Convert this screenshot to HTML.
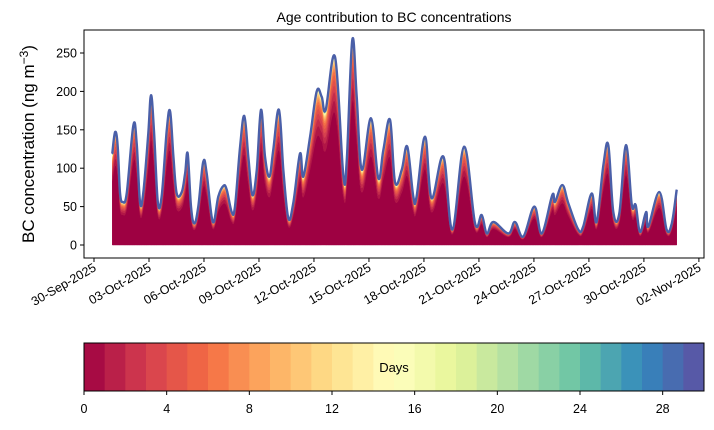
<!DOCTYPE html>
<html><head><meta charset="utf-8"><style>
body{margin:0;background:#fff;}
svg text{font-family:"Liberation Sans","DejaVu Sans",sans-serif;fill:#000;}
</style></head><body>
<svg id="c" width="714" height="425" viewBox="0 0 714 425" xmlns="http://www.w3.org/2000/svg">
<text x="394" y="22" text-anchor="middle" font-size="14">Age contribution to BC concentrations</text>
<text transform="translate(34,144) rotate(-90)" text-anchor="middle" font-size="17">BC concentration (ng m<tspan dy="-6" font-size="12">−3</tspan><tspan dy="6">)</tspan></text>
<g id="layers"></g>
<path id="topline" fill="none" stroke="#4a5fa8" stroke-width="2.4"/>
<rect x="84" y="30" width="620" height="228" fill="none" stroke="#000" stroke-width="1"/>
<g id="yaxis"></g>
<g id="xaxis"></g>
<g id="cbar"></g>
<text x="394" y="372" text-anchor="middle" font-size="13">Days</text>
</svg>
<script>
const times=[0.00,0.15,0.29,0.42,0.57,0.79,1.15,1.33,1.51,1.69,1.96,2.11,2.27,2.48,2.70,2.97,3.15,3.33,3.51,3.79,3.97,4.11,4.29,4.47,4.69,4.96,5.15,5.48,5.78,6.06,6.24,6.51,6.69,6.97,7.20,7.42,7.64,7.88,8.11,8.33,8.57,8.78,9.09,9.33,9.60,9.87,10.24,10.42,10.79,11.15,11.42,11.64,12.15,12.60,12.79,13.09,13.33,13.61,14.11,14.51,14.79,15.15,15.42,15.79,16.09,16.42,16.60,17.06,17.42,18.06,18.55,19.19,19.79,20.15,20.43,20.79,21.60,21.97,22.42,23.02,23.43,24.00,24.15,24.55,24.88,25.42,25.69,26.15,26.42,26.79,27.06,27.33,27.66,28.02,28.34,28.55,28.79,29.12,29.24,29.84,30.24,30.52,30.79];
const totals=[119,147,130,68,56,68,156,132,56,68,145,195,150,56,65,150,174,115,67,69,93,119,50,28,50,108,93,30,63,77,72,43,50,128,168,115,65,98,176,115,89,124,176,98,35,54,119,89,141,200,193,176,245,91,111,267,193,98,165,87,124,163,82,98,128,63,63,141,61,115,20,128,28,39,15,30,15,30,11,50,15,65,56,78,54,20,24,67,30,104,130,43,41,130,52,52,17,43,24,69,20,28,72];
const ageShares=[0.70,0.06,0.045,0.035,0.03,0.025,0.02,0.015,0.012,0.01,0.008,0.006,0.005,0.004,0.003,0.0025,0.002,0.002,0.0018,0.0016,0.0014,0.0012,0.001,0.001,0.001,0.001,0.001,0.001,0.001,0.001];
const yTicks=[0,50,100,150,200,250];
const dateLabels=["30-Sep-2025","03-Oct-2025","06-Oct-2025","09-Oct-2025","12-Oct-2025","15-Oct-2025","18-Oct-2025","21-Oct-2025","24-Oct-2025","27-Oct-2025","30-Oct-2025","02-Nov-2025"];
const dateOffsets=[-1,2,5,8,11,14,17,20,23,26,29,32];
const cbTicks=[0,4,8,12,16,20,24,28];

const NS="http://www.w3.org/2000/svg";
const X=d=>112.33+d*18.33;
const Y=v=>245-v*0.768;
const stops=["#9e0142","#d53e4f","#f46d43","#fdae61","#fee08b","#ffffbf","#e6f598","#abdda4","#66c2a5","#3288bd","#5e4fa2"];
function hx(h){return [1,3,5].map(i=>parseInt(h.substr(i,2),16));}
function spectral(t){const p=t*10,i=Math.min(9,Math.floor(p)),f=p-i;const a=hx(stops[i]),b=hx(stops[i+1]);return "rgb("+a.map((v,k)=>Math.round(v+(b[k]-v)*f)).join(",")+")";}
// smooth curve through points (catmull-rom), returns path segments without initial M
function curve(P,start){
  let s=start?("M"+P[0][0].toFixed(1)+","+P[0][1].toFixed(1)):("L"+P[0][0].toFixed(1)+","+P[0][1].toFixed(1));
  for(let i=0;i<P.length-1;i++){
    const p0=P[Math.max(0,i-1)],p1=P[i],p2=P[i+1],p3=P[Math.min(P.length-1,i+2)];
    const t=0.18;
    const c1=[p1[0]+(p2[0]-p0[0])*t,p1[1]+(p2[1]-p0[1])*t];
    const c2=[p2[0]-(p3[0]-p1[0])*t,p2[1]-(p3[1]-p1[1])*t];
    s+="C"+c1[0].toFixed(1)+","+c1[1].toFixed(1)+" "+c2[0].toFixed(1)+","+c2[1].toFixed(1)+" "+p2[0].toFixed(1)+","+p2[1].toFixed(1);
  }
  return s;
}
const sumS=ageShares.reduce((a,b)=>a+b,0);
const layers=document.getElementById('layers');
let cumPrev=times.map(()=>0);
for(let k=0;k<ageShares.length;k++){
  const cum=cumPrev.map((c,i)=>c+totals[i]*ageShares[k]/sumS);
  const top=times.map((t,i)=>[X(t),Y(cum[i])]);
  const bot=times.map((t,i)=>[X(t),Y(cumPrev[i])]).reverse();
  const p=document.createElementNS(NS,'path');
  p.setAttribute('d',curve(top,true)+curve(bot,false)+"Z");
  const col=spectral(k/29);
  p.setAttribute('fill',col);
  p.setAttribute('stroke',col);
  p.setAttribute('stroke-width','0.5');
  
  
  layers.appendChild(p);
  cumPrev=cum;
}
document.getElementById('topline').setAttribute('d',curve(times.map((t,i)=>[X(t),Y(totals[i])]),true));
const ya=document.getElementById('yaxis');
yTicks.forEach(v=>{
  const l=document.createElementNS(NS,'line');
  l.setAttribute('x1',80);l.setAttribute('x2',84);l.setAttribute('y1',Y(v));l.setAttribute('y2',Y(v));l.setAttribute('stroke','#000');
  
  
  ya.appendChild(l);
  const t=document.createElementNS(NS,'text');
  t.setAttribute('x',77);t.setAttribute('y',Y(v)+4.5);t.setAttribute('text-anchor','end');t.setAttribute('font-size','12.5');
  t.textContent=v;
  
  
  ya.appendChild(t);
});
const xa=document.getElementById('xaxis');
dateLabels.forEach((s,i)=>{
  const x=X(dateOffsets[i]);
  const l=document.createElementNS(NS,'line');
  l.setAttribute('x1',x);l.setAttribute('x2',x);l.setAttribute('y1',258);l.setAttribute('y2',262);l.setAttribute('stroke','#000');
  
  
  xa.appendChild(l);
  const t=document.createElementNS(NS,'text');
  t.setAttribute('transform','translate('+(x+3)+',270) rotate(-30)');
  t.setAttribute('text-anchor','end');t.setAttribute('font-size','12.5');
  t.textContent=s;
  
  
  xa.appendChild(t);
});
const cb=document.getElementById('cbar');
const cx0=84,cw=620,cy=343,ch=48;
for(let k=0;k<30;k++){
  const r=document.createElementNS(NS,'rect');
  r.setAttribute('x',cx0+k*cw/30);r.setAttribute('y',cy);r.setAttribute('width',cw/30+0.5);r.setAttribute('height',ch);
  r.setAttribute('fill',spectral((k+0.5)/30));
  
  
  cb.appendChild(r);
}
const fr=document.createElementNS(NS,'rect');
fr.setAttribute('x',cx0);fr.setAttribute('y',cy);fr.setAttribute('width',cw);fr.setAttribute('height',ch);fr.setAttribute('fill','none');fr.setAttribute('stroke','#000');


cb.appendChild(fr);
cbTicks.forEach(v=>{
  const x=cx0+v*cw/30;
  const l=document.createElementNS(NS,'line');
  l.setAttribute('x1',x);l.setAttribute('x2',x);l.setAttribute('y1',cy+ch);l.setAttribute('y2',cy+ch+4);l.setAttribute('stroke','#000');
  
  
  cb.appendChild(l);
  const t=document.createElementNS(NS,'text');
  t.setAttribute('x',x);t.setAttribute('y',413);t.setAttribute('text-anchor','middle');t.setAttribute('font-size','12.5');
  t.textContent=v;
  
  
  cb.appendChild(t);
});
</script>
</body></html>
